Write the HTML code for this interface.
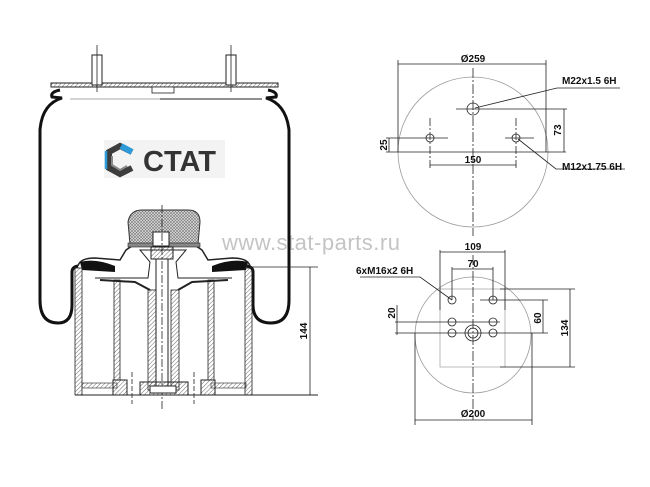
<!DOCTYPE html>
<html><head><meta charset="utf-8"><style>
html,body{margin:0;padding:0;background:#fff;}
svg{display:block;}
text{font-family:"Liberation Sans",Arial,sans-serif;font-weight:bold;fill:#111;}
</style></head><body>
<svg width="650" height="487" viewBox="0 0 650 487" xmlns="http://www.w3.org/2000/svg">
<defs>
<pattern id="h" width="3" height="3" patternUnits="userSpaceOnUse" patternTransform="rotate(45)"><line x1="0" y1="0" x2="0" y2="3" stroke="#444" stroke-width="0.8"/></pattern>
<pattern id="x" width="3" height="3" patternUnits="userSpaceOnUse"><rect width="3" height="3" fill="#ddd"/><path d="M0 0L3 3M3 0L0 3" stroke="#777" stroke-width="0.6"/></pattern>
</defs>
<!-- watermark -->
<text x="222" y="250" font-size="22" style="font-weight:normal;fill:#c4c4c4;letter-spacing:0.5px">www.stat-parts.ru</text>

<!-- top plate & studs -->
<rect x="51" y="83" width="227" height="4" fill="url(#h)" stroke="#222" stroke-width="1"/>
<rect x="92" y="55" width="10" height="30" fill="#fff" stroke="#222"/>
<rect x="226" y="55" width="10" height="30" fill="#fff" stroke="#222"/>
<line x1="97" y1="45" x2="97" y2="92" stroke="#222" stroke-width="0.8"/>
<line x1="231" y1="45" x2="231" y2="92" stroke="#222" stroke-width="0.8"/>
<rect x="152" y="87" width="22" height="6" fill="#fff" stroke="#222" stroke-width="0.8"/>
<line x1="70" y1="99" x2="160" y2="99" stroke="#aaa" stroke-width="1"/>
<line x1="160" y1="99" x2="262" y2="99" stroke="#222" stroke-width="1"/>
<!-- bellows -->
<path d="M60 90 Q50 92 52 97 L62 98 Q42 104 40 130 L40 300 Q40 323 58 323 Q72 323 72 305 L72 272 Q72 267 78 266" fill="none" stroke="#111" stroke-width="3"/>
<path d="M268 90 Q278 92 276 97 L266 98 Q286 104 289 130 L289 300 Q289 323 271 323 Q253 323 253 305 L253 272 Q253 267 247 266" fill="none" stroke="#111" stroke-width="3"/>

<!-- logo -->
<rect x="104" y="140" width="121" height="38" fill="#f3f3f3"/>
<polyline points="132,152 120,146 109,152 109,168 120,174 132,168" fill="none" stroke="#3c3c3c" stroke-width="6" stroke-linejoin="miter"/>
<polyline points="121,146 132,152" fill="none" stroke="#2a9ad8" stroke-width="6"/>
<polyline points="106,151 106,169" fill="none" stroke="#2a9ad8" stroke-width="2.5"/>
<polyline points="112,156 112,165 120,170 127,166" fill="none" stroke="#888" stroke-width="2"/>
<text x="143" y="171" font-size="29" style="fill:#333">CTAT</text>

<!-- piston -->
<path d="M78 266 Q80 258 95 258 L120 260 L126 250 L132 246 L196 246 L202 250 L208 260 L232 258 Q248 258 250 266" fill="none" stroke="#222" stroke-width="1.5"/>
<path d="M80 262 Q95 258 115 266 L115 272 L82 270Z" fill="#111"/>
<path d="M248 262 Q232 258 212 266 L212 272 L246 270Z" fill="#111"/>
<rect x="75" y="268" width="7" height="127" fill="url(#h)" stroke="#222" stroke-width="0.8"/>
<rect x="245" y="268" width="7" height="127" fill="url(#h)" stroke="#222" stroke-width="0.8"/>
<rect x="114" y="280" width="6" height="100" fill="url(#h)" stroke="#222" stroke-width="0.8"/>
<rect x="208" y="280" width="6" height="100" fill="url(#h)" stroke="#222" stroke-width="0.8"/>
<path d="M95 278 L148 278 L150 262 L140 250 L186 250 L176 262 L178 278 L232 278" fill="none" stroke="#222" stroke-width="1"/>
<path d="M100 280 L135 282 L150 290 M228 280 L192 282 L178 290" fill="none" stroke="#222" stroke-width="2"/>
<!-- cap -->
<path d="M130 244 L128 222 Q130 210 142 210 L188 210 Q200 210 200 222 L198 244 Z" fill="url(#x)" stroke="#333" stroke-width="1"/>
<rect x="128" y="243" width="72" height="4" fill="#888" stroke="#222" stroke-width="0.6"/>
<rect x="153" y="232" width="16" height="14" fill="#fff" stroke="#222"/>
<rect x="151" y="247" width="22" height="12" fill="url(#h)" stroke="#222"/>
<!-- tubes & bolt -->
<rect x="148" y="290" width="8" height="100" fill="url(#h)" stroke="#222" stroke-width="0.8"/>
<rect x="171" y="290" width="8" height="100" fill="url(#h)" stroke="#222" stroke-width="0.8"/>
<rect x="156" y="259" width="12" height="128" fill="#fff" stroke="#222"/>
<line x1="162" y1="205" x2="162" y2="410" stroke="#222" stroke-width="0.8" stroke-dasharray="8,2,2,2"/>
<!-- bottom -->
<rect x="82" y="383" width="35" height="5" fill="url(#h)" stroke="#222" stroke-width="0.6"/>
<rect x="211" y="383" width="35" height="5" fill="url(#h)" stroke="#222" stroke-width="0.6"/>
<rect x="113" y="380" width="14" height="15" fill="url(#h)" stroke="#222"/>
<rect x="201" y="380" width="14" height="15" fill="url(#h)" stroke="#222"/>
<rect x="140" y="382" width="48" height="13" fill="url(#h)" stroke="#222"/>
<rect x="150" y="386" width="26" height="7" fill="#fff" stroke="#222"/>
<line x1="132" y1="372" x2="132" y2="404" stroke="#222" stroke-width="0.8" stroke-dasharray="5,2"/>
<line x1="194" y1="372" x2="194" y2="404" stroke="#222" stroke-width="0.8" stroke-dasharray="5,2"/>
<line x1="75" y1="395" x2="318" y2="395" stroke="#222" stroke-width="1"/>
<!-- dim 144 -->
<line x1="250" y1="267" x2="318" y2="267" stroke="#222" stroke-width="0.8"/>
<line x1="310" y1="267" x2="310" y2="395" stroke="#222" stroke-width="0.8"/>
<text transform="translate(307,331) rotate(-90)" font-size="10" text-anchor="middle">144</text>

<!-- TOP VIEW -->
<g stroke="#222" stroke-width="0.8" fill="none">
<circle cx="473" cy="152" r="75" stroke="#999"/>
<line x1="473" y1="68" x2="473" y2="236" stroke-dasharray="10,2,2,2"/>
<line x1="386" y1="152" x2="566" y2="152"/>
<line x1="398" y1="60" x2="398" y2="152"/>
<line x1="546" y1="60" x2="546" y2="152"/>
<line x1="398" y1="64" x2="546" y2="64"/>
<circle cx="473" cy="109" r="6"/>
<line x1="456" y1="109" x2="567" y2="109"/>
<line x1="564" y1="109" x2="564" y2="152"/>
<circle cx="430" cy="138" r="4"/>
<circle cx="516" cy="138" r="4"/>
<line x1="386" y1="138" x2="448" y2="138"/>
<line x1="505" y1="138" x2="534" y2="138"/>
<line x1="430" y1="118" x2="430" y2="168" stroke-dasharray="8,2,2,2"/>
<line x1="516" y1="118" x2="516" y2="168" stroke-dasharray="8,2,2,2"/>
<line x1="389" y1="138" x2="389" y2="152"/>
<line x1="430" y1="165" x2="516" y2="165"/>
<polyline points="475,108 557,88 620,88"/>
<polyline points="518,139 556,169 625,169"/>
</g>
<text x="473" y="62" font-size="10" text-anchor="middle">Ø259</text>
<text x="562" y="84" font-size="10">M22x1.5 6H</text>
<text x="562" y="170" font-size="10">M12x1.75 6H</text>
<text x="473" y="163" font-size="10" text-anchor="middle">150</text>
<text transform="translate(561,130) rotate(-90)" font-size="10" text-anchor="middle">73</text>
<text transform="translate(387,145) rotate(-90)" font-size="10" text-anchor="middle">25</text>

<!-- BOTTOM VIEW -->
<g stroke="#222" stroke-width="0.8" fill="none">
<circle cx="473" cy="335" r="58" stroke="#999"/>
<rect x="440" y="289" width="65" height="78" stroke="#aaa"/>
<line x1="473" y1="255" x2="473" y2="420" stroke-dasharray="10,2,2,2"/>
<line x1="440" y1="250" x2="440" y2="310"/>
<line x1="505" y1="250" x2="505" y2="310"/>
<line x1="440" y1="252" x2="505" y2="252"/>
<line x1="452" y1="267" x2="452" y2="300"/>
<line x1="493" y1="267" x2="493" y2="300"/>
<line x1="452" y1="269" x2="493" y2="269"/>
<circle cx="452" cy="300" r="4"/><circle cx="493" cy="300" r="4"/>
<circle cx="452" cy="322" r="4"/><circle cx="493" cy="322" r="4"/>
<circle cx="452" cy="333" r="4"/><circle cx="493" cy="333" r="4"/>
<circle cx="473" cy="333" r="8"/><circle cx="473" cy="333" r="5"/>
<line x1="500" y1="289" x2="575" y2="289"/>
<line x1="500" y1="367" x2="575" y2="367"/>
<line x1="570" y1="289" x2="570" y2="367"/>
<line x1="480" y1="300" x2="548" y2="300"/>
<line x1="395" y1="333" x2="548" y2="333"/>
<line x1="543" y1="300" x2="543" y2="333"/>
<line x1="395" y1="322" x2="500" y2="322"/>
<line x1="397" y1="305" x2="397" y2="335"/>
<line x1="415" y1="333" x2="415" y2="425"/>
<line x1="532" y1="333" x2="532" y2="425"/>
<line x1="415" y1="420" x2="532" y2="420"/>
<polyline points="360,277 420,277 452,300"/>
</g>
<text x="473" y="250" font-size="10" text-anchor="middle">109</text>
<text x="473" y="267" font-size="10" text-anchor="middle">70</text>
<text x="356" y="274" font-size="10">6xM16x2 6H</text>
<text transform="translate(395,313) rotate(-90)" font-size="10" text-anchor="middle">20</text>
<text transform="translate(541,318) rotate(-90)" font-size="10" text-anchor="middle">60</text>
<text transform="translate(568,328) rotate(-90)" font-size="10" text-anchor="middle">134</text>
<text x="473" y="417" font-size="10" text-anchor="middle">Ø200</text>
</svg>
</body></html>
